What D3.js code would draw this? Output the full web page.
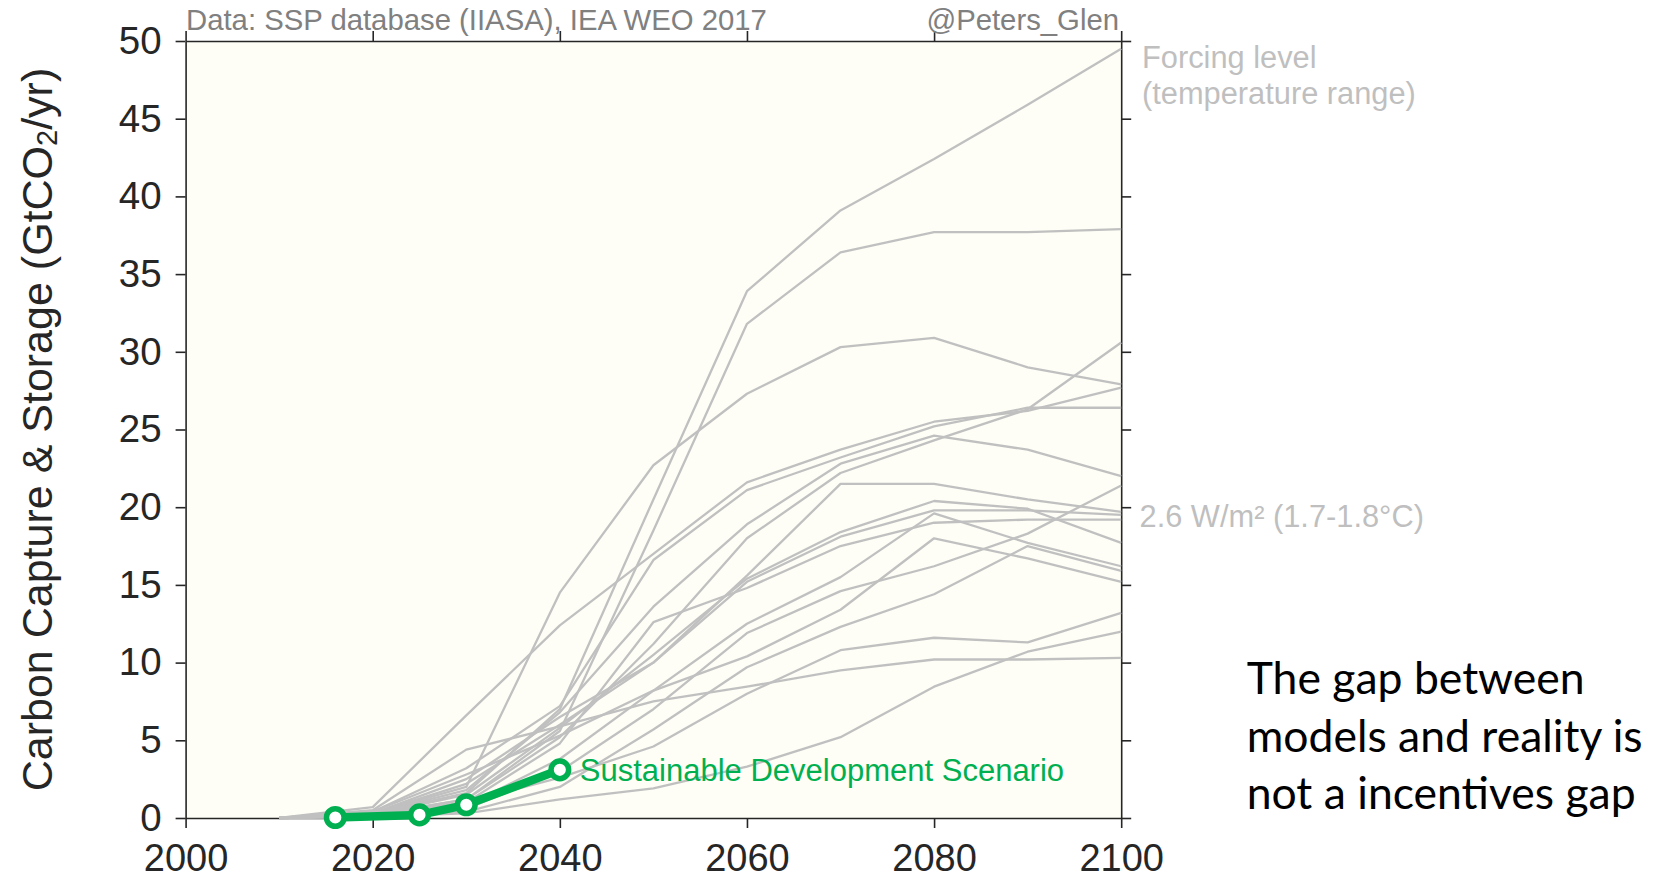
<!DOCTYPE html>
<html>
<head>
<meta charset="utf-8">
<script src="https://cdn.jsdelivr.net/npm/d3@7"></script>
<style>
  html, body { margin: 0; padding: 0; background: #ffffff; }
  svg { display: block; }
</style>
</head>
<body>
<svg id="chart" width="1655" height="879"></svg>
<script>
// Model pathways: carbon capture & storage, GtCO2/yr
const years = [2010, 2020, 2030, 2040, 2050, 2060, 2070, 2080, 2090, 2100];

const scen01 = [0, 0.3, 1.6, 7.0, 20.5, 33.9, 39.1, 42.4, 45.9, 49.5];
const scen02 = [0, 0.2, 1.2, 5.6, 18.5, 31.8, 36.4, 37.7, 37.7, 37.9];
const scen03 = [0, 0.3, 2.0, 14.5, 22.7, 27.3, 30.3, 30.9, 29.0, 27.9];
const scen04 = [0, 0.7, 6.6, 12.4, 17.0, 21.6, 23.7, 25.5, 26.2, 27.7];
const scen05 = [0, 0.4, 3.2, 7.2, 16.6, 21.1, 23.2, 25.2, 26.4, 26.4];
const scen06 = [0, 0.2, 1.2, 5.2, 11.2, 18.0, 22.2, 24.3, 26.3, 30.6];
const scen07 = [0, 0.3, 1.8, 6.8, 13.6, 18.9, 22.8, 24.6, 23.7, 22.0];
const scen08 = [0, 0.3, 2.5, 6.5, 10.0, 15.6, 21.5, 21.5, 20.5, 19.7];
const scen09 = [0, 0.1, 0.6, 3.0, 7.0, 11.9, 14.6, 16.2, 18.3, 21.4];
const scen10 = [0, 0.2, 1.5, 5.8, 10.5, 15.4, 18.4, 20.4, 19.9, 17.7];
const scen11 = [0, 0.3, 2.2, 6.0, 10.0, 15.2, 18.1, 19.8, 19.8, 19.5];
const scen12 = [0, 0.1, 0.8, 3.8, 8.2, 12.5, 15.5, 19.6, 17.7, 16.2];
const scen13 = [0, 0.2, 1.0, 4.8, 12.6, 14.8, 17.5, 19.0, 19.2, 19.2];
const scen14 = [0, 0.4, 2.8, 5.3, 8.2, 10.4, 13.4, 18.0, 16.7, 15.2];
const scen15 = [0, 0.1, 0.4, 2.0, 5.7, 9.7, 12.3, 14.4, 17.5, 15.9];
const scen16 = [0, 0.2, 1.0, 2.6, 4.6, 8.0, 10.8, 11.6, 11.3, 13.2];
const scen17 = [0, 0.5, 4.4, 5.9, 7.5, 8.45, 9.5, 10.2, 10.2, 10.3];
const scen18 = [0, 0.1, 0.3, 1.2, 1.9, 3.3, 5.2, 8.45, 10.7, 12.0];

const scenarios = [scen01, scen02, scen03, scen04, scen05, scen06, scen07, scen08, scen09,
                   scen10, scen11, scen12, scen13, scen14, scen15, scen16, scen17, scen18];

// IEA WEO 2017 Sustainable Development Scenario
const sdsYears = [2016, 2025, 2030, 2040];
const sdsValues = [0.03, 0.2, 0.85, 3.1];

const xTicks = [2000, 2020, 2040, 2060, 2080, 2100];
const yTicks = [0, 5, 10, 15, 20, 25, 30, 35, 40, 45, 50];

const FONT = "'Liberation Sans', Arial, Helvetica, sans-serif";
const AXIS = "#262626";
const GREY = "#c0c0c0";
const GREEN = "#00b050";

const svg = d3.select("#chart");

const x = d3.scaleLinear().domain([2000, 2100]).range([185.6, 1121.2]);
const y = d3.scaleLinear().domain([0, 50]).range([818, 41]);

// plot background
svg.append("rect")
  .attr("x", x(2000)).attr("y", y(50))
  .attr("width", x(2100) - x(2000)).attr("height", y(0) - y(50))
  .attr("fill", "#fefef6");

// axes (box with outward ticks on all four sides)
function styleAxis(g) {
  g.select(".domain").attr("stroke", AXIS).attr("stroke-width", 1.6);
  g.selectAll(".tick line").attr("stroke", AXIS).attr("stroke-width", 1.6);
  g.selectAll(".tick text").attr("fill", AXIS);
  g.attr("font-family", FONT);
}

svg.append("g")
  .attr("transform", `translate(0,${y(0)})`)
  .call(d3.axisBottom(x).tickValues(xTicks).tickFormat(d3.format("d"))
        .tickSize(10).tickSizeOuter(0).tickPadding(16))
  .call(styleAxis)
  .attr("font-size", 38);

svg.append("g")
  .attr("transform", `translate(0,${y(50)})`)
  .call(d3.axisTop(x).tickValues(xTicks).tickFormat("").tickSize(10).tickSizeOuter(0))
  .call(styleAxis);

svg.append("g")
  .attr("transform", `translate(${x(2000)},0)`)
  .call(d3.axisLeft(y).tickValues(yTicks).tickFormat(d3.format("d"))
        .tickSize(10).tickSizeOuter(0).tickPadding(14))
  .call(styleAxis)
  .attr("font-size", 38.5);

svg.append("g")
  .attr("transform", `translate(${x(2100)},0)`)
  .call(d3.axisRight(y).tickValues(yTicks).tickFormat("").tickSize(10).tickSizeOuter(0))
  .call(styleAxis);

// model pathways
const line = d3.line().x((d, i) => x(years[i])).y(d => y(d));
svg.append("g")
  .selectAll("path")
  .data(scenarios)
  .join("path")
  .attr("d", line)
  .attr("fill", "none")
  .attr("stroke", GREY)
  .attr("stroke-width", 2.3)
  .attr("stroke-linejoin", "round");

// Sustainable Development Scenario
const sdsLine = d3.line().x((d, i) => x(sdsYears[i])).y(d => y(d));
svg.append("path")
  .datum(sdsValues)
  .attr("d", sdsLine)
  .attr("fill", "none")
  .attr("stroke", GREEN)
  .attr("stroke-width", 8.5)
  .attr("stroke-linejoin", "round");

svg.append("g")
  .selectAll("circle")
  .data(sdsValues)
  .join("circle")
  .attr("cx", (d, i) => x(sdsYears[i]))
  .attr("cy", d => y(d))
  .attr("r", 8.8)
  .attr("fill", "#ffffff")
  .attr("stroke", GREEN)
  .attr("stroke-width", 5.5);

const last = sdsValues.length - 1;
svg.append("text")
  .attr("x", x(sdsYears[last]) + 20)
  .attr("y", y(sdsValues[last]))
  .attr("dy", "0.35em")
  .attr("font-family", FONT)
  .attr("font-size", 31)
  .attr("fill", GREEN)
  .text("Sustainable Development Scenario");

// y axis title
const yTitle = svg.append("text")
  .attr("transform", `translate(37,${(y(0) + y(50)) / 2}) rotate(-90)`)
  .attr("text-anchor", "middle")
  .attr("dominant-baseline", "central")
  .attr("font-family", FONT)
  .attr("font-size", 43)
  .attr("fill", AXIS);
yTitle.append("tspan").text("Carbon Capture & Storage (GtCO");
yTitle.append("tspan").attr("font-size", 29).attr("dy", 10).text("2");
yTitle.append("tspan").attr("dy", -10).text("/yr)");

// header credits
svg.append("text")
  .attr("x", 186).attr("y", 30)
  .attr("font-family", FONT).attr("font-size", 29.3)
  .attr("fill", "#808080")
  .text("Data: SSP database (IIASA), IEA WEO 2017");
svg.append("text")
  .attr("x", 1119).attr("y", 30)
  .attr("text-anchor", "end")
  .attr("font-family", FONT).attr("font-size", 29.3)
  .attr("fill", "#808080")
  .text("@Peters_Glen");

// right-hand annotations
const rightNote = svg.append("g")
  .attr("font-family", FONT).attr("font-size", 30.8).attr("fill", "#bfbfbf");
rightNote.append("text").attr("x", 1142).attr("y", 68).text("Forcing level");
rightNote.append("text").attr("x", 1142).attr("y", 104).text("(temperature range)");
rightNote.append("text").attr("x", 1139.5).attr("y", 527).text("2.6 W/m² (1.7-1.8°C)");

// slide message
const msg = ["The gap between", "models and reality is", "not a incentives gap"];
svg.append("g")
  .attr("font-family", "Lato, 'Open Sans', sans-serif")
  .attr("font-size", 44.5)
  .attr("fill", "#000000")
  .selectAll("text")
  .data(msg)
  .join("text")
  .attr("x", 1246.7)
  .attr("y", (d, i) => 694 + i * 57.5)
  .text(d => d);
</script>
</body>
</html>
